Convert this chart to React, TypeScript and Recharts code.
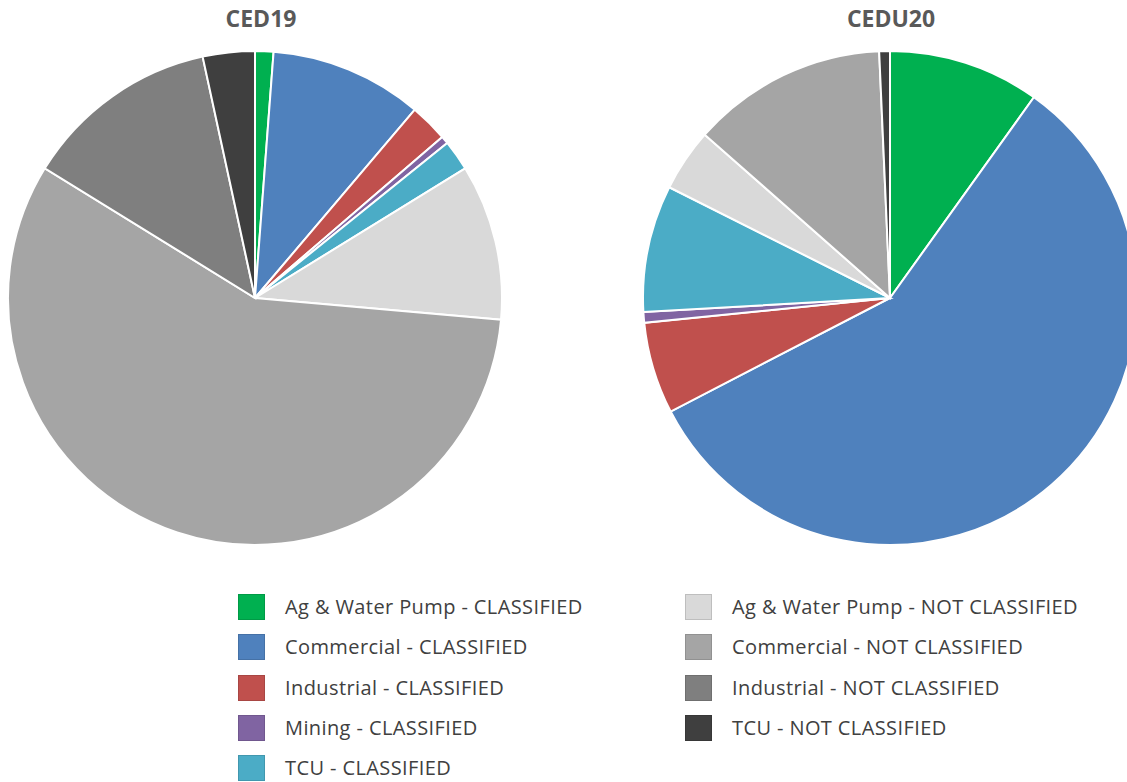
import { PieChart, Pie, Cell } from "recharts";

const categories = [
  "Ag & Water Pump - CLASSIFIED",
  "Commercial - CLASSIFIED",
  "Industrial - CLASSIFIED",
  "Mining - CLASSIFIED",
  "TCU - CLASSIFIED",
  "Ag & Water Pump - NOT CLASSIFIED",
  "Commercial - NOT CLASSIFIED",
  "Industrial - NOT CLASSIFIED",
  "TCU - NOT CLASSIFIED",
];
const colors = [
  "#00B050",
  "#4F81BD",
  "#C0504D",
  "#8064A2",
  "#4BACC6",
  "#D9D9D9",
  "#A5A5A5",
  "#7F7F7F",
  "#3F3F3F",
];
const ced19 = [1.2, 10.0, 2.5, 0.5, 2.0, 10.2, 57.4, 12.8, 3.4];
const cedu20 = [9.9, 57.5, 6.0, 0.7, 8.3, 4.1, 12.8, 0, 0.7];

const build = (vals: number[]) =>
  vals
    .map((v, i) => ({ name: categories[i], value: v, fill: colors[i] }))
    .filter((d) => d.value > 0);

const leftLegend = [0, 1, 2, 3, 4];
const rightLegend = [5, 6, 7, 8];

const font = "'Open Sans', 'Noto Sans', sans-serif";

function LegendItem({ i, x, y }: { i: number; x: number; y: number }) {
  return (
    <div style={{ position: "absolute", left: x, top: y, display: "flex", alignItems: "center" }}>
      <div
        style={{
          width: 27,
          height: 26,
          background: colors[i],
          boxSizing: "border-box",
          border: "1px solid rgba(0,0,0,0.12)",
        }}
      />
      <span
        style={{
          marginLeft: 20,
          fontSize: 20,
          letterSpacing: 0.4,
          color: "#404040",
          fontFamily: font,
          lineHeight: "26px",
        }}
      >
        {categories[i]}
      </span>
    </div>
  );
}

const titleStyle = {
  position: "absolute" as const,
  width: 200,
  top: 2,
  textAlign: "center" as const,
  fontFamily: font,
  fontWeight: 700,
  fontSize: 23,
  color: "#595959",
};

export default function App() {
  const left = build(ced19);
  const right = build(cedu20);
  return (
    <div style={{ position: "relative", width: 1127, height: 782, background: "#fff", overflow: "hidden" }}>
      <style>{`body{margin:0}`}</style>
      <div style={{ ...titleStyle, left: 161 }}>CED19</div>
      <div style={{ ...titleStyle, left: 791 }}>CEDU20</div>
      <div style={{ position: "absolute", left: 0, top: 0 }}>
        <PieChart width={1127} height={560} margin={{ top: 0, right: 0, bottom: 0, left: 0 }}>
          <Pie
            data={left}
            dataKey="value"
            cx={255}
            cy={298}
            outerRadius={247}
            startAngle={90}
            endAngle={-270}
            stroke="#fff"
            strokeWidth={2}
            isAnimationActive={false}
          >
            {left.map((d) => (
              <Cell key={d.name} fill={d.fill} />
            ))}
          </Pie>
          <Pie
            data={right}
            dataKey="value"
            cx={890}
            cy={298}
            outerRadius={247}
            startAngle={90}
            endAngle={-270}
            stroke="#fff"
            strokeWidth={2}
            isAnimationActive={false}
          >
            {right.map((d) => (
              <Cell key={d.name} fill={d.fill} />
            ))}
          </Pie>
        </PieChart>
      </div>
      {leftLegend.map((i, k) => (
        <LegendItem key={i} i={i} x={238} y={594 + k * 40.3} />
      ))}
      {rightLegend.map((i, k) => (
        <LegendItem key={i} i={i} x={685} y={594 + k * 40.3} />
      ))}
    </div>
  );
}
